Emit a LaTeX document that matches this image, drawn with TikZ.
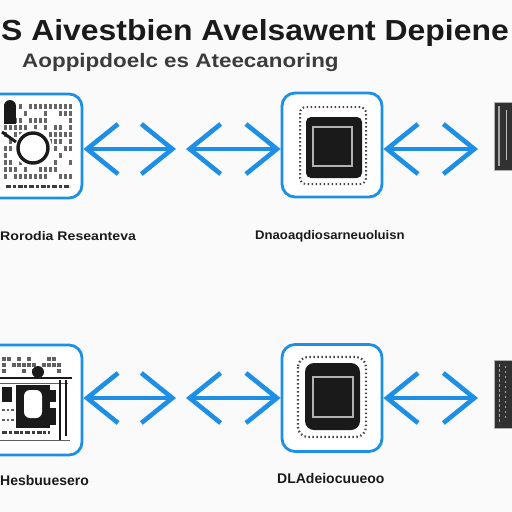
\documentclass[tikz,border=0pt]{standalone}
\usepackage{fontspec}
\setmainfont{Liberation Sans}
\usetikzlibrary{arrows.meta}
\definecolor{arrowblue}{HTML}{1E8FE6}
\definecolor{bg}{HTML}{FAFAFA}
\definecolor{ink}{HTML}{1A1A1A}
\tikzset{
  framebox/.style={draw=arrowblue, line width=2.8pt, rounded corners=13pt, fill=white},
  dbl/.style={arrowblue, line width=4.8pt, {Straight Barb[length=31pt,width=50pt,line width=4.6pt]}-{Straight Barb[length=31pt,width=50pt,line width=4.6pt]}},
  lbl/.style={font=\fontsize{12.5}{13}\selectfont\bfseries, text=ink, inner sep=0pt},
  sidebox/.style={fill=ink!90, draw=gray!60, line width=1pt},
  txtline/.style={gray!75!black, line width=2.6pt, dash pattern=on 3pt off 1.5pt on 2pt off 2.5pt on 4pt off 2pt},
  darkline/.style={ink!85, line width=3pt, dash pattern=on 5pt off 1.5pt on 3pt off 2pt}
}
\begin{document}
\begin{tikzpicture}[x=1pt,y=-1pt]
\useasboundingbox (0,0) rectangle (512,512);
\clip (0,0) rectangle (512,512);
\fill[bg] (0,0) rectangle (512,512);

% title
\node[anchor=west, inner sep=0pt, text=ink, font=\fontsize{29}{31}\selectfont\bfseries] (title) at (1,33) {\scalebox{1.1}[1]{S Aivestbien Avelsawent Depiene}};
\node[anchor=west, inner sep=0pt, text=ink!85, font=\fontsize{19.5}{21}\selectfont\bfseries] (subtitle) at (22,62) {\scalebox{1.15}[1]{Aoppipdoelc es Ateecanoring}};

% ---------- row 1 ----------
\node[framebox, minimum width=100pt, minimum height=104pt] (L1) at (32,146) {};
\node[framebox, minimum width=100pt, minimum height=104pt] (M1) at (332,145) {};
\node[sidebox, minimum width=34pt, minimum height=68pt] (R1) at (511,136) {};
\draw[gray!70, line width=1.2pt] (499,106) -- (499,166);
\draw[gray!50, line width=0.8pt] (506,110) -- (506,160);

% left icon row 1 (dense glyph-like marks)
\pgfmathsetseed{7}
\foreach \yy in {104,111,118,125,132,139,146,153,160,167,174} {
  \foreach \xx in {4,9,...,70} {
    \pgfmathsetmacro{\r}{rnd}
    \ifdim\r pt>0.35pt
      \fill[gray!80!black] (\xx,\yy) rectangle ++(3.2,4.5);
    \fi
  }
}
\fill[white] (33,148) circle (19pt);
\draw[ink, line width=3.4pt] (33,148) circle (15pt);
\fill[ink] (4,106) rectangle (16,124);
\fill[ink] (10,106) circle (6pt);
\draw[ink, line width=3pt] (2,132) -- (16,142);
\fill[white] (2,180) rectangle (74,192);
\draw[darkline] (6,186) -- (70,186);

% chip row 1
\draw[ink!80, line width=2pt, dash pattern=on 1.5pt off 2.5pt, rounded corners=6pt] (300,107) rectangle (366,184);
\fill[ink, rounded corners=5pt] (306,117) rectangle (362,178);
\draw[gray!60, line width=1.4pt] (313,127) rectangle (352,166);

% arrows row 1
\coordinate (a1) at (176,149);
\coordinate (a2) at (186,149);
\coordinate (a3) at (478,149);
\draw[dbl] (L1.east |- a1) -- (a1);
\draw[dbl] (a2) -- (M1.west |- a2);
\draw[dbl] (M1.east |- a3) -- (a3);

% labels row 1
\node[lbl, anchor=west] (t1) at (0,236) {\scalebox{1.13}[1]{Rorodia Reseanteva}};
\node[lbl, anchor=west] (t2) at (255,236) {\scalebox{1.05}[1]{Dnaoaqdiosarneuoluisn}};

% ---------- row 2 ----------
\node[framebox, minimum width=100pt, minimum height=110pt] (L2) at (32,400) {};
\node[framebox, minimum width=100pt, minimum height=107pt] (M2) at (332,398) {};
\node[sidebox, minimum width=34pt, minimum height=68pt] (R2) at (511,394) {};
\draw[gray!70, line width=1pt, dash pattern=on 3pt off 2pt] (499,364) -- (499,424);
\draw[gray!70, line width=1pt, dash pattern=on 2pt off 3pt] (505,366) -- (505,420);

% left icon row 2 (building)
\pgfmathsetseed{11}
\foreach \yy in {357,363,369} {
  \foreach \xx in {2,7,...,62} {
    \pgfmathsetmacro{\r}{rnd}
    \ifdim\r pt>0.4pt
      \fill[gray!75!black] (\xx,\yy) rectangle ++(3.5,4);
    \fi
  }
}
\fill[ink] (38,372) circle (6pt);
\draw[ink, line width=1.5pt] (0,378) -- (72,378);
\draw[ink!70, line width=1pt] (0,383) -- (68,383);
\fill[ink] (2,387) rectangle (12,402);
\fill[ink] (16,385) rectangle (50,428);
\fill[white, rounded corners=6pt] (24,390) rectangle (42,418);
\fill[ink] (50,390) rectangle (56,402);
\fill[ink] (50,408) rectangle (56,425);
\draw[ink, line width=1.4pt] (60,380) -- (60,440);
\draw[ink, line width=1.4pt] (66,380) -- (66,436);
\draw[txtline] (2,410) -- (14,410);
\draw[txtline] (2,420) -- (14,420);
\draw[darkline] (2,432) -- (50,432);
\draw[ink!70, line width=1pt] (0,440) -- (70,440);

% chip row 2
\draw[ink!80, line width=2.2pt, dash pattern=on 1.5pt off 2.5pt, rounded corners=10pt] (298,357) rectangle (366,437);
\fill[ink, rounded corners=9pt] (305,363) rectangle (360,430);
\draw[gray!60, line width=1.6pt] (313,377) rectangle (353,417);

% arrows row 2
\coordinate (b1) at (176,398);
\coordinate (b2) at (186,398);
\coordinate (b3) at (478,398);
\draw[dbl] (L2.east |- b1) -- (b1);
\draw[dbl] (b2) -- (M2.west |- b2);
\draw[dbl] (M2.east |- b3) -- (b3);

% labels row 2
\node[lbl, anchor=west, font=\fontsize{14}{15}\selectfont\bfseries] (t3) at (0,480) {Hesbuuesero};
\node[lbl, anchor=west, font=\fontsize{14}{15}\selectfont\bfseries] (t4) at (277,478) {DLAdeiocuueoo};
\end{tikzpicture}
\end{document}
